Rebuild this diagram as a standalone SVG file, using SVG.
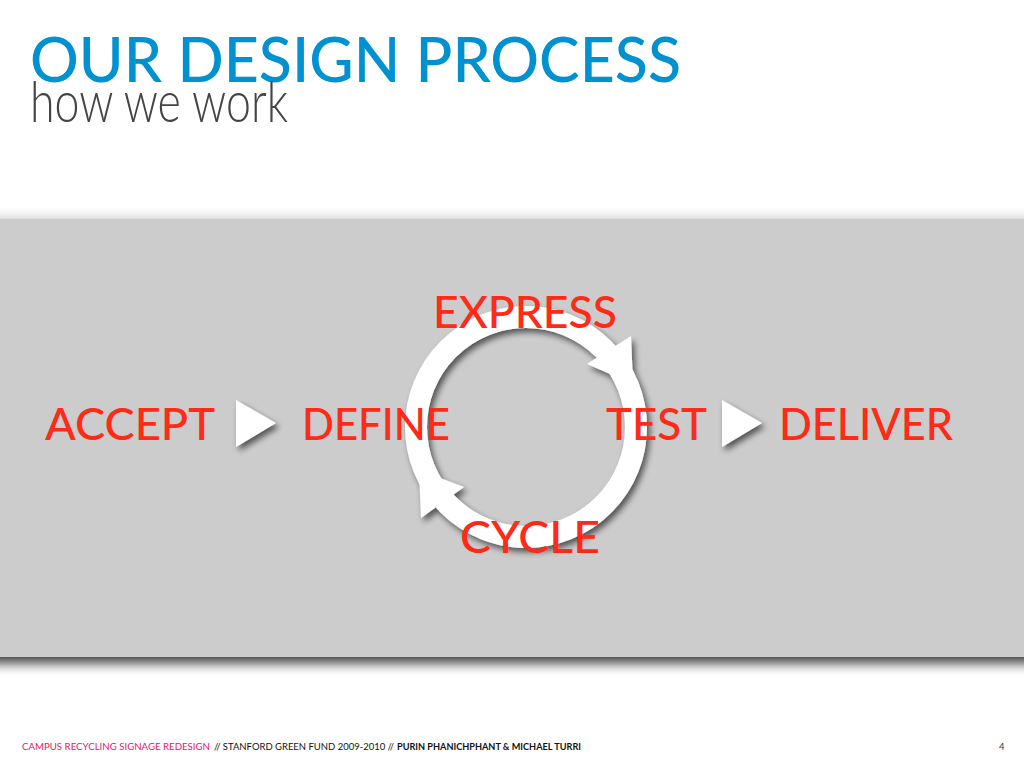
<svg xmlns="http://www.w3.org/2000/svg" width="1024" height="768" viewBox="0 0 1024 768">
<style>
.lbl{font-family:Lato,"Noto Sans",sans-serif;font-weight:500;font-size:44px;fill:#FF2A17}
.foot{font-family:Lato,"Noto Sans",sans-serif;font-size:9.5px}
</style>
<defs>
<linearGradient id="topSh" x1="0" y1="0" x2="0" y2="1">
<stop offset="0" stop-color="#fff" stop-opacity="0"/>
<stop offset="1" stop-color="#bbb" stop-opacity="0.5"/>
</linearGradient>
<linearGradient id="botSh" x1="0" y1="0" x2="0" y2="1">
<stop offset="0" stop-color="#555"/>
<stop offset="0.3" stop-color="#999"/>
<stop offset="1" stop-color="#fff" stop-opacity="0"/>
</linearGradient>
<filter id="sh" x="-30%" y="-30%" width="160%" height="160%">
<feGaussianBlur in="SourceAlpha" stdDeviation="3"/>
<feOffset dx="3" dy="4" result="b"/>
<feComponentTransfer><feFuncA type="linear" slope="0.6"/></feComponentTransfer>
<feMerge><feMergeNode/><feMergeNode in="SourceGraphic"/></feMerge>
</filter>
</defs>
<rect width="1024" height="768" fill="#fff"/>
<g id="header">
<text x="30" y="82" font-family="Lato,'Noto Sans',sans-serif" font-weight="500" font-size="62" fill="#0091D0" textLength="651" lengthAdjust="spacingAndGlyphs">OUR DESIGN PROCESS</text>
<text x="30" y="122" font-family="Lato,'Noto Sans',sans-serif" font-weight="300" font-size="57" fill="#444" textLength="258" lengthAdjust="spacingAndGlyphs">how we work</text>
</g>
<g id="band">
<rect x="0" y="205" width="1024" height="14" fill="url(#topSh)"/>
<rect x="0" y="657" width="1024" height="20" fill="url(#botSh)"/>
<rect x="0" y="219" width="1024" height="438" fill="#CCCCCC"/>
</g>
<g id="connectors">
<g filter="url(#sh)" fill="#fff">
<circle cx="526" cy="427" r="110" fill="none" stroke="#fff" stroke-width="22"/>
<polygon points="587,364 631,336 633,384"/>
<polygon points="419,470 464,487 421,518"/>
<polygon points="236,400 276,423 236,447"/>
<polygon points="722,400 762,423 722,447"/>
</g>
</g>
<g id="node-accept"><text class="lbl" x="45" y="440" textLength="170" lengthAdjust="spacingAndGlyphs">ACCEPT</text></g>
<g id="node-define"><text class="lbl" x="302" y="440" textLength="148" lengthAdjust="spacingAndGlyphs">DEFINE</text></g>
<g id="node-express"><text class="lbl" x="433" y="328" textLength="184" lengthAdjust="spacingAndGlyphs">EXPRESS</text></g>
<g id="node-test"><text class="lbl" x="606" y="440" textLength="101" lengthAdjust="spacingAndGlyphs">TEST</text></g>
<g id="node-cycle"><text class="lbl" x="460" y="553" textLength="140" lengthAdjust="spacingAndGlyphs">CYCLE</text></g>
<g id="node-deliver"><text class="lbl" x="779" y="440" textLength="174" lengthAdjust="spacingAndGlyphs">DELIVER</text></g>
<g id="footer">
<text class="foot" x="22" y="750" fill="#E0206A" textLength="188" lengthAdjust="spacingAndGlyphs">CAMPUS RECYCLING SIGNAGE REDESIGN</text>
<text class="foot" x="214" y="750" fill="#111" textLength="180" lengthAdjust="spacingAndGlyphs">// STANFORD GREEN FUND 2009-2010 //</text>
<text class="foot" x="397" y="750" fill="#111" font-weight="bold" textLength="184" lengthAdjust="spacingAndGlyphs">PURIN PHANICHPHANT &amp; MICHAEL TURRI</text>
<text class="foot" x="999" y="750" fill="#333">4</text>
</g>
</svg>
